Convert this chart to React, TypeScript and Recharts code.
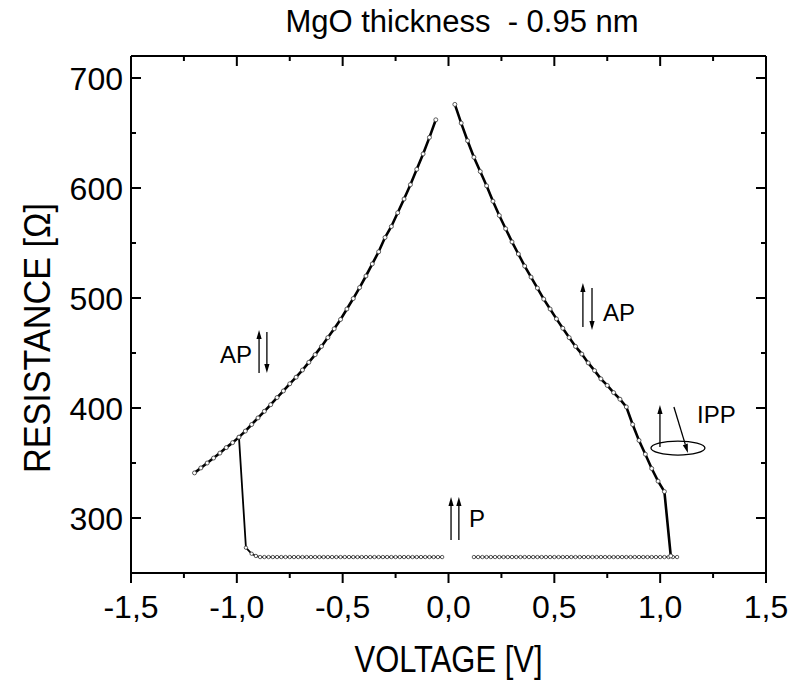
import React from 'react'
import { LineChart, Line, XAxis, YAxis, ReferenceLine, ReferenceDot, Label } from 'recharts'

const FONT = '"Liberation Sans", Arial, Helvetica, sans-serif'

// AP branch, negative bias
const apNegV = [
  -1.2, -1.17, -1.14, -1.11, -1.08, -1.05, -1.02, -0.99, -0.96, -0.93,
  -0.9, -0.87, -0.84, -0.81, -0.78, -0.75, -0.72, -0.69, -0.66, -0.63,
  -0.6, -0.57, -0.54, -0.51, -0.48, -0.45, -0.42, -0.39, -0.36, -0.33,
  -0.3, -0.27, -0.24, -0.21, -0.18, -0.15, -0.12, -0.09, -0.06,
]
const apNegR = [
  341, 345.5, 350, 354.5, 359, 364, 368.5, 373.5, 379, 385,
  391, 397, 403, 409.5, 415.5, 422, 428, 434.5, 441.5, 448.5,
  456, 464, 472, 480.5, 490, 499.5, 509.5, 520, 531, 542,
  555, 565, 577.5, 590, 603, 617, 631, 646, 662,
]

// AP branch, positive bias (ends with the switch to P)
const apPosV = [
  0.03, 0.06, 0.09, 0.12, 0.15, 0.18, 0.21, 0.24, 0.27, 0.3,
  0.33, 0.36, 0.39, 0.42, 0.45, 0.48, 0.51, 0.54, 0.57, 0.6,
  0.63, 0.66, 0.69, 0.72, 0.75, 0.78, 0.81, 0.84, 0.87, 0.9,
  0.93, 0.96, 0.99, 1.02, 1.05,
]
const apPosR = [
  676, 659, 643, 628, 615, 602, 588, 575, 563, 551,
  540, 529, 519, 509, 499, 490, 481, 472.5, 464, 456,
  449, 441, 434, 426.5, 420.5, 414, 408, 401, 385, 370.5,
  358, 345, 333.5, 324, 265.5,
]

// P state, negative bias (starts with the switch from AP)
const pNegV = [
  -0.99, -0.957, -0.93, -0.91,
  -0.89, -0.87, -0.85, -0.83, -0.81, -0.79, -0.77, -0.75, -0.73, -0.71,
  -0.69, -0.67, -0.65, -0.63, -0.61, -0.59, -0.57, -0.55, -0.53, -0.51,
  -0.49, -0.47, -0.45, -0.43, -0.41, -0.39, -0.37, -0.35, -0.33, -0.31,
  -0.29, -0.27, -0.25, -0.23, -0.21, -0.19, -0.17, -0.15, -0.13, -0.11,
  -0.09, -0.07, -0.05, -0.03,
]
const pNegR = [
  373.5, 273, 267.5, 265.5,
  264.5, 264.5, 264.5, 264.5, 264.5, 264.5, 264.5, 264.5, 264.5, 264.5,
  264.5, 264.5, 264.5, 264.5, 264.5, 264.5, 264.5, 264.5, 264.5, 264.5,
  264.5, 264.5, 264.5, 264.5, 264.5, 264.5, 264.5, 264.5, 264.5, 264.5,
  264.5, 264.5, 264.5, 264.5, 264.5, 264.5, 264.5, 264.5, 264.5, 264.5,
  264.5, 264.5, 264.5, 264.5,
]

// P state, positive bias
const pPosV = [
  0.12, 0.14, 0.16, 0.18, 0.2, 0.22, 0.24, 0.26, 0.28, 0.3,
  0.32, 0.34, 0.36, 0.38, 0.4, 0.42, 0.44, 0.46, 0.48, 0.5,
  0.52, 0.54, 0.56, 0.58, 0.6, 0.62, 0.64, 0.66, 0.68, 0.7,
  0.72, 0.74, 0.76, 0.78, 0.8, 0.82, 0.84, 0.86, 0.88, 0.9,
  0.92, 0.94, 0.96, 0.98, 1.0, 1.02, 1.04, 1.06, 1.08,
]
const pPosR = [
  264.5, 264.5, 264.5, 264.5, 264.5, 264.5, 264.5, 264.5, 264.5, 264.5,
  264.5, 264.5, 264.5, 264.5, 264.5, 264.5, 264.5, 264.5, 264.5, 264.5,
  264.5, 264.5, 264.5, 264.5, 264.5, 264.5, 264.5, 264.5, 264.5, 264.5,
  264.5, 264.5, 264.5, 264.5, 264.5, 264.5, 264.5, 264.5, 264.5, 264.5,
  264.5, 264.5, 264.5, 264.5, 264.5, 264.5, 264.5, 264.5, 264.5,
]

const xMajor = [-1.5, -1, -0.5, 0, 0.5, 1, 1.5]
const xTickLabels = ['-1,5', '-1,0', '-0,5', '0,0', '0,5', '1,0', '1,5']
const xMinor = [-1.25, -0.75, -0.25, 0.25, 0.75, 1.25]
const yMajor = [300, 400, 500, 600, 700]
const yMinor = [350, 450, 550, 650]

const title = 'MgO thickness \u00A0- 0.95 nm'
const xTitle = 'VOLTAGE [V]'
const yTitle = 'RESISTANCE [\u03A9]'

// annotation arrows: [tailV, tailR, headV, headR]
const arrows = [
  [-0.895, 431.8, -0.895, 470.9],
  [-0.858, 469, -0.858, 431.8],
  [0.635, 473.6, 0.635, 513.6],
  [0.678, 509, 0.678, 470.9],
  [0.999, 364.5, 0.999, 402.7],
  [1.065, 400.9, 1.131, 359.1],
  [0.012, 280, 0.012, 319.1],
  [0.049, 280, 0.049, 319.1],
]
// annotation labels: [text, v, r, anchor]
const notes: [string, number, number, string][] = [
  ['AP', -0.928, 449, 'end'],
  ['AP', 0.73, 487.3, 'start'],
  ['IPP', 1.174, 394.5, 'start'],
  ['P', 0.097, 300, 'start'],
]
const ellipseAt = [1.084, 363.6]

const toRows = (vs: number[], rs: number[]) => vs.map((v, i) => ({ v, r: rs[i] }))
const apNeg = toRows(apNegV, apNegR)
const apPos = toRows(apPosV, apPosR)
const pNeg = toRows(pNegV, pNegR)
const pPos = toRows(pPosV, pPosR)
const xTicks = [...xMajor, ...xMinor].sort((a, b) => a - b)
const yTicks = [...yMajor, ...yMinor].sort((a, b) => a - b)

const LeftTick = (props: any) => {
  const { x, y, payload } = props
  const major = yMajor.includes(payload.value)
  return (
    <g>
      <line x1={x} y1={y} x2={x + (major ? 10 : 5)} y2={y} stroke="#000" strokeWidth={2} />
      {major && (
        <text x={x - 8} y={y} dy="0.36em" textAnchor="end" fontSize={32} fontFamily={FONT} fill="#000">
          {payload.value}
        </text>
      )}
    </g>
  )
}

const RightTick = (props: any) => {
  const { x, y, payload } = props
  const major = yMajor.includes(payload.value)
  return <line x1={x} y1={y} x2={x - (major ? 10 : 5)} y2={y} stroke="#000" strokeWidth={2} />
}

const BottomTick = (props: any) => {
  const { x, y, payload } = props
  const idx = xMajor.indexOf(payload.value)
  const major = idx >= 0
  return (
    <g>
      <line x1={x} y1={y} x2={x} y2={y + (major ? 10 : 5)} stroke="#000" strokeWidth={2} />
      {major && (
        <text x={x} y={y + 45} textAnchor="middle" fontSize={32} fontFamily={FONT} fill="#000">
          {xTickLabels[idx]}
        </text>
      )}
    </g>
  )
}

const TopTick = (props: any) => {
  const { x, y, payload } = props
  const major = xMajor.includes(payload.value)
  return <line x1={x} y1={y} x2={x} y2={y + (major ? 10 : 5)} stroke="#000" strokeWidth={2} />
}

const ArrowShape = (props: any) => {
  const { x1, y1, x2, y2 } = props
  const dx = x2 - x1
  const dy = y2 - y1
  const len = Math.sqrt(dx * dx + dy * dy) || 1
  const ux = dx / len
  const uy = dy / len
  const hl = 9
  const hw = 2.6
  const bx = x2 - ux * hl
  const by = y2 - uy * hl
  return (
    <g>
      <line x1={x1} y1={y1} x2={bx} y2={by} stroke="#000" strokeWidth={1.3} />
      <polygon
        points={`${x2},${y2} ${bx - uy * hw},${by + ux * hw} ${bx + uy * hw},${by - ux * hw}`}
        fill="#000"
      />
    </g>
  )
}

const noteShape = (text: string, anchor: string) => (props: any) => (
  <text
    x={props.cx}
    y={props.cy}
    dy="0.36em"
    textAnchor={anchor as any}
    fontSize={24}
    fontFamily={FONT}
    fill="#000"
  >
    {text}
  </text>
)

const EllipseShape = (props: any) => (
  <ellipse cx={props.cx} cy={props.cy} rx={27} ry={7} fill="none" stroke="#000" strokeWidth={1.3} />
)

const apDot = { r: 2, fill: '#fff', stroke: '#333', strokeWidth: 0.8 }
const pDot = { r: 1.7, fill: '#fff', stroke: '#333', strokeWidth: 0.8 }

export default function App() {
  return (
    <div style={{ position: 'absolute', left: 0, top: 0, width: 796, height: 683, background: '#fff' }}>
      <LineChart width={796} height={683} margin={{ top: 55, right: 29, bottom: 50, left: 61 }}>
        <XAxis
          xAxisId="b"
          type="number"
          dataKey="v"
          domain={[-1.5, 1.5]}
          ticks={xTicks}
          interval={0}
          allowDataOverflow
          height={60}
          tickSize={0}
          tickMargin={0}
          tickLine={false}
          axisLine={{ stroke: '#000', strokeWidth: 2 }}
          tick={BottomTick}
        >
          <Label
            content={({ viewBox }: any) => (
              <text
                x={viewBox.x + viewBox.width / 2}
                y={viewBox.y + 99}
                textAnchor="middle"
                fontSize={36}
                fontFamily={FONT}
                textLength={188}
                lengthAdjust="spacingAndGlyphs"
                fill="#000"
              >
                {xTitle}
              </text>
            )}
          />
        </XAxis>
        <XAxis
          xAxisId="t"
          orientation="top"
          type="number"
          dataKey="v"
          domain={[-1.5, 1.5]}
          ticks={xTicks}
          interval={0}
          allowDataOverflow
          height={1}
          tickSize={0}
          tickMargin={0}
          tickLine={false}
          axisLine={{ stroke: '#000', strokeWidth: 2 }}
          tick={TopTick}
        >
          <Label
            content={({ viewBox }: any) => (
              <text
                x={viewBox.x + viewBox.width / 2 + 13.5}
                y={viewBox.y - 23}
                textAnchor="middle"
                fontSize={31}
                fontFamily={FONT}
                fill="#000"
              >
                {title}
              </text>
            )}
          />
        </XAxis>
        <YAxis
          yAxisId="l"
          type="number"
          domain={[250, 720]}
          ticks={yTicks}
          interval={0}
          allowDataOverflow
          width={70}
          tickSize={0}
          tickMargin={0}
          tickLine={false}
          axisLine={{ stroke: '#000', strokeWidth: 2 }}
          tick={LeftTick}
        >
          <Label
            content={({ viewBox }: any) => (
              <text
                transform={`translate(${viewBox.x - 11}, ${viewBox.y + viewBox.height / 2 + 23.5}) rotate(-90)`}
                textAnchor="middle"
                fontSize={37}
                fontFamily={FONT}
                textLength={270}
                lengthAdjust="spacingAndGlyphs"
                fill="#000"
              >
                {yTitle}
              </text>
            )}
          />
        </YAxis>
        <YAxis
          yAxisId="r"
          orientation="right"
          type="number"
          domain={[250, 720]}
          ticks={yTicks}
          interval={0}
          allowDataOverflow
          width={1}
          tickSize={0}
          tickMargin={0}
          tickLine={false}
          axisLine={{ stroke: '#000', strokeWidth: 2 }}
          tick={RightTick}
        />

        <Line
          xAxisId="b"
          yAxisId="l"
          data={pNeg}
          dataKey="r"
          stroke="#000"
          strokeWidth={1.8}
          dot={pDot}
          isAnimationActive={false}
        />
        <Line
          xAxisId="b"
          yAxisId="l"
          data={pPos}
          dataKey="r"
          stroke="#000"
          strokeWidth={1.5}
          dot={pDot}
          isAnimationActive={false}
        />
        <Line
          xAxisId="b"
          yAxisId="l"
          data={apNeg}
          dataKey="r"
          stroke="#000"
          strokeWidth={2.6}
          dot={apDot}
          isAnimationActive={false}
        />
        <Line
          xAxisId="t"
          yAxisId="r"
          data={apPos}
          dataKey="r"
          stroke="#000"
          strokeWidth={2.6}
          dot={apDot}
          isAnimationActive={false}
        />

        {arrows.map((a, i) => (
          <ReferenceLine
            key={`ar${i}`}
            xAxisId="b"
            yAxisId="l"
            segment={[
              { x: a[0], y: a[1] },
              { x: a[2], y: a[3] },
            ]}
            ifOverflow="visible"
            shape={ArrowShape}
          />
        ))}
        {notes.map((n, i) => (
          <ReferenceDot
            key={`nt${i}`}
            xAxisId="b"
            yAxisId="l"
            x={n[1]}
            y={n[2]}
            ifOverflow="visible"
            shape={noteShape(n[0], n[3])}
          />
        ))}
        <ReferenceDot
          xAxisId="b"
          yAxisId="l"
          x={ellipseAt[0]}
          y={ellipseAt[1]}
          ifOverflow="visible"
          shape={EllipseShape}
        />
      </LineChart>
    </div>
  )
}
